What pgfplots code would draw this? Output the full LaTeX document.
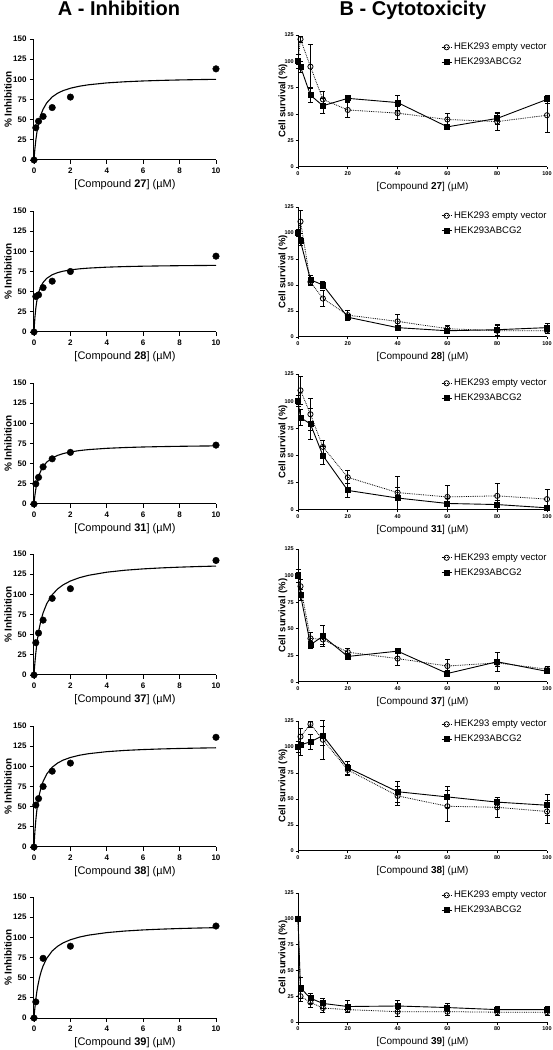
\documentclass[border=0pt]{standalone}
\usepackage{pgfplots}
\pgfplotsset{compat=1.18}
\usepackage{fontspec}
\setmainfont{Liberation Sans}

\pgfplotsset{
  base/.style={scale only axis, axis lines*=left, axis line style={-, line width=1pt},
    tick align=outside, clip=false, /pgf/number format/assume math mode=true,
    every tick/.style={black, line width=0.9pt}, xmin=0, ymin=0},
  leftax/.style={base, width=182pt, height=121pt, xmax=10, ymax=150,
    xtick={0,2,...,10}, ytick={0,25,...,150}, major tick length=4pt,
    ticklabel style={font=\bfseries\fontsize{8}{9}\selectfont},
    ylabel={\% Inhibition},
    ylabel style={at={(axis description cs:-0.1429,0.5)}, anchor=center, font=\bfseries\fontsize{10}{12}\selectfont},
    xlabel style={at={(axis description cs:0.5,0)}, yshift=-25pt, anchor=center, font=\fontsize{11}{13}\selectfont}},
  rightax/.style={base, width=249pt, xmax=100, ymax=125,
    xtick={0,20,...,100}, ytick={0,25,...,125}, major tick length=2.5pt,
    ticklabel style={font=\bfseries\fontsize{5.5}{6}\selectfont, inner sep=1.5pt},
    ylabel={Cell survival (\%)},
    ylabel style={at={(axis description cs:-0.0602,0.5)}, anchor=center, font=\bfseries\fontsize{9.5}{11}\selectfont},
    xlabel style={at={(axis description cs:0.5,0)}, yshift=-20pt, anchor=center, font=\fontsize{10}{12}\selectfont},
    legend image code/.code={\draw[mark repeat=2,mark phase=2,#1] plot coordinates {(0pt,0pt) (5pt,0pt) (10pt,0pt)};},
    legend cell align=left},
  leg/.style={legend style={at={(axis description cs:0,1)}, anchor=north west, xshift=143pt, yshift=#1,
    draw=none, fill=none, inner sep=0pt, row sep=3pt, font=\fontsize{9.5}{11}\selectfont}},
  curve/.style={black, line width=1.1pt, no marks},
  pts/.style={black, only marks, mark=*, mark size=3.3pt},
  ev/.style={black, densely dotted, line width=0.8pt, mark=o, mark size=2.6pt,
    mark options={solid, line width=0.8pt},
    error bars/.cd, y dir=both, y explicit,
    error bar style={solid, line width=0.8pt},
    error mark options={rotate=90, mark size=2.5pt, solid, line width=0.8pt}},
  ab/.style={black, solid, line width=0.9pt, mark=square*, mark size=2.5pt,
    error bars/.cd, y dir=both, y explicit,
    error bar style={solid, line width=0.8pt},
    error mark options={rotate=90, mark size=2.5pt, solid, line width=0.8pt}},
}

\begin{document}
\begin{tikzpicture}
\useasboundingbox (0pt,0pt) rectangle (552pt,1050pt);
\node[anchor=base, font=\bfseries\fontsize{20}{24}\selectfont] at (119pt,1034.3pt) {A - Inhibition};
\node[anchor=base, font=\bfseries\fontsize{20}{24}\selectfont] at (413pt,1034.3pt) {B - Cytotoxicity};

% ---------------- Left column ----------------
\begin{axis}[leftax, at={(34pt,890pt)}, anchor=south west, xlabel={[Compound \textbf{27}] (µM)}]
\addplot[curve] coordinates {(0,0) (0.02,6.07) (0.05,13.95) (0.1,24.57) (0.15,32.94) (0.2,39.69) (0.3,49.94) (0.4,57.33) (0.5,62.93) (0.7,70.82) (1,78.18) (1.3,82.81) (1.6,86.0) (2,88.97) (2.5,91.49) (3,93.25) (4,95.56) (5,96.99) (6,97.97) (7,98.69) (8,99.23) (9,99.66) (10,100.0)};
\addplot[pts] coordinates {(0,0) (0.1,40) (0.25,48) (0.5,54) (1,65) (2,78) (10,113)};
\end{axis}

\begin{axis}[leftax, at={(34pt,718pt)}, anchor=south west, xlabel={[Compound \textbf{28}] (µM)}]
\addplot[curve] coordinates {(0,0) (0.02,8.2) (0.05,17.89) (0.1,29.51) (0.15,37.66) (0.2,43.69) (0.3,52.02) (0.4,57.5) (0.5,61.39) (0.7,66.52) (1,70.97) (1.3,73.62) (1.6,75.38) (2,76.98) (2.5,78.31) (3,79.21) (4,80.38) (5,81.1) (6,81.58) (7,81.93) (8,82.2) (9,82.41) (10,82.57)};
\addplot[pts] coordinates {(0,0) (0.1,44) (0.25,46) (0.5,55) (1,63) (2,75) (10,94)};
\end{axis}

\begin{axis}[leftax, at={(34pt,546pt)}, anchor=south west, xlabel={[Compound \textbf{31}] (µM)}]
\addplot[curve] coordinates {(0,0) (0.02,4.64) (0.05,10.6) (0.1,18.55) (0.15,24.73) (0.2,29.68) (0.3,37.1) (0.4,42.4) (0.5,46.38) (0.7,51.94) (1,57.08) (1.3,60.29) (1.6,62.48) (2,64.52) (2.5,66.25) (3,67.45) (4,69.02) (5,70.0) (6,70.67) (7,71.15) (8,71.52) (9,71.81) (10,72.04)};
\addplot[pts] coordinates {(0,0) (0.1,25) (0.25,33) (0.5,46) (1,56) (2,64) (10,73)};
\end{axis}

\begin{axis}[leftax, at={(34pt,375pt)}, anchor=south west, xlabel={[Compound \textbf{37}] (µM)}]
\addplot[curve] coordinates {(0,0) (0.02,6.49) (0.05,15.18) (0.1,27.41) (0.15,37.46) (0.2,45.87) (0.3,59.16) (0.4,69.18) (0.5,77.0) (0.7,88.43) (1,99.5) (1.3,106.7) (1.6,111.75) (2,116.54) (2.5,120.67) (3,123.59) (4,127.44) (5,129.87) (6,131.55) (7,132.77) (8,133.7) (9,134.43) (10,135.02)};
\addplot[pts] coordinates {(0,0) (0.1,40) (0.25,52) (0.5,68) (1,95) (2,107) (10,142)};
\end{axis}

\begin{axis}[leftax, at={(34pt,203pt)}, anchor=south west, xlabel={[Compound \textbf{38}] (µM)}]
\addplot[curve] coordinates {(0,0) (0.02,8.48) (0.05,19.27) (0.1,33.44) (0.15,44.3) (0.2,52.89) (0.3,65.6) (0.4,74.57) (0.5,81.23) (0.7,90.47) (1,98.9) (1.3,104.13) (1.6,107.69) (2,110.97) (2.5,113.75) (3,115.68) (4,118.19) (5,119.74) (6,120.8) (7,121.57) (8,122.15) (9,122.61) (10,122.98)};
\addplot[pts] coordinates {(0,0) (0.1,52) (0.25,60) (0.5,75) (1,94) (2,104) (10,136)};
\end{axis}

\begin{axis}[leftax, at={(34pt,32pt)}, anchor=south west, xlabel={[Compound \textbf{39}] (µM)}]
\addplot[curve] coordinates {(0,0) (0.02,5.52) (0.05,12.89) (0.1,23.21) (0.15,31.66) (0.2,38.7) (0.3,49.79) (0.4,58.1) (0.5,64.58) (0.7,74.0) (1,83.1) (1.3,88.98) (1.6,93.11) (2,97.0) (2.5,100.36) (3,102.73) (4,105.86) (5,107.83) (6,109.18) (7,110.17) (8,110.93) (9,111.52) (10,112.0)};
\addplot[pts] coordinates {(0,0) (0.1,20) (0.5,74) (2,89) (10,114)};
\end{axis}

% ---------------- Right column ----------------
\begin{axis}[rightax, height=132pt, at={(298pt,883pt)}, anchor=south west, leg=-6pt, xlabel={[Compound \textbf{27}] (µM)}]
\addplot[ev] coordinates {(0,100) +- (0,3) (1,121) +- (0,3) (5,95) +- (0,21) (10,64) +- (0,8) (20,54) +- (0,7) (40,51) +- (0,6) (60,45) +- (0,6) (80,43) +- (0,8) (100,49) +- (0,16)};
\addlegendentry{HEK293 empty vector}
\addplot[ab] coordinates {(0,100) +- (0,7) (1,95) +- (0,5) (5,68) +- (0,7) (10,58) +- (0,7) (20,65) +- (0,3) (40,61) +- (0,7) (60,38) +- (0,2) (80,46) +- (0,6) (100,64) +- (0,4)};
\addlegendentry{HEK293ABCG2}
\end{axis}

\begin{axis}[rightax, height=130pt, at={(298pt,713pt)}, anchor=south west, leg=-2.5pt, xlabel={[Compound \textbf{28}] (µM)}]
\addplot[ev] coordinates {(0,100) +- (0,3) (1,111) +- (0,11) (5,53) +- (0,3) (10,37) +- (0,8) (20,21) +- (0,5) (40,15) +- (0,7) (60,8) +- (0,3) (80,6) +- (0,5) (100,6) +- (0,3)};
\addlegendentry{HEK293 empty vector}
\addplot[ab] coordinates {(0,100) +- (0,3) (1,92) +- (0,4) (5,55) +- (0,4) (10,50) +- (0,3) (20,19) +- (0,3) (40,9) +- (0,2) (60,6) +- (0,2) (80,7) +- (0,5) (100,9) +- (0,4)};
\addlegendentry{HEK293ABCG2}
\end{axis}

\begin{axis}[rightax, height=136pt, at={(298pt,540pt)}, anchor=south west, leg=-3pt, xlabel={[Compound \textbf{31}] (µM)}]
\addplot[ev] coordinates {(0,100) +- (0,3) (1,110) +- (0,13) (5,88) +- (0,15) (10,58) +- (0,6) (20,30) +- (0,6) (40,16) +- (0,15) (60,12) +- (0,11) (80,13) +- (0,11) (100,10) +- (0,9)};
\addlegendentry{HEK293 empty vector}
\addplot[ab] coordinates {(0,100) +- (0,5) (1,85) +- (0,7) (5,79) +- (0,14) (10,50) +- (0,8) (20,18) +- (0,6) (40,11) +- (0,10) (60,6) +- (0,5) (80,5) +- (0,4) (100,2) +- (0,2)};
\addlegendentry{HEK293ABCG2}
\end{axis}

\begin{axis}[rightax, height=133pt, at={(298pt,368pt)}, anchor=south west, leg=-2.5pt, xlabel={[Compound \textbf{37}] (µM)}]
\addplot[ev] coordinates {(0,100) +- (0,3) (1,90) +- (0,6) (5,41) +- (0,6) (10,40) +- (0,5) (20,28) +- (0,4) (40,22) +- (0,6) (60,15) +- (0,6) (80,18) +- (0,3) (100,12) +- (0,3)};
\addlegendentry{HEK293 empty vector}
\addplot[ab] coordinates {(0,100) +- (0,6) (1,82) +- (0,5) (5,35) +- (0,3) (10,43) +- (0,10) (20,24) +- (0,3) (40,29) +- (0,2) (60,8) +- (0,3) (80,19) +- (0,9) (100,10) +- (0,2)};
\addlegendentry{HEK293ABCG2}
\end{axis}

\begin{axis}[rightax, height=130pt, at={(298pt,199pt)}, anchor=south west, leg=3pt, xlabel={[Compound \textbf{38}] (µM)}]
\addplot[ev] coordinates {(0,100) +- (0,5) (1,110) +- (0,8) (5,122) +- (0,3) (10,107) +- (0,19) (20,78) +- (0,5) (40,53) +- (0,9) (60,43) +- (0,15) (80,42) +- (0,10) (100,38) +- (0,11)};
\addlegendentry{HEK293 empty vector}
\addplot[ab] coordinates {(0,100) +- (0,5) (1,102) +- (0,10) (5,105) +- (0,7) (10,111) +- (0,9) (20,80) +- (0,6) (40,57) +- (0,10) (60,52) +- (0,10) (80,47) +- (0,5) (100,44) +- (0,10)};
\addlegendentry{HEK293ABCG2}
\end{axis}

\begin{axis}[rightax, height=129pt, at={(298pt,28pt)}, anchor=south west, leg=4pt, xlabel={[Compound \textbf{39}] (µM)}]
\addplot[ev] coordinates {(0,100) +- (0,2) (1,25) +- (0,5) (5,19) +- (0,5) (10,13.5) +- (0,4) (20,12) +- (0,3) (40,10) +- (0,5) (60,10) +- (0,4) (80,9.5) +- (0,3) (100,9.5) +- (0,3)};
\addlegendentry{HEK293 empty vector}
\addplot[ab] coordinates {(0,100) +- (0,2) (1,33) +- (0,10) (5,23) +- (0,5) (10,18) +- (0,5) (20,15) +- (0,6) (40,15.5) +- (0,5) (60,14) +- (0,4) (80,12) +- (0,3) (100,12) +- (0,3)};
\addlegendentry{HEK293ABCG2}
\end{axis}
\end{tikzpicture}
\end{document}
